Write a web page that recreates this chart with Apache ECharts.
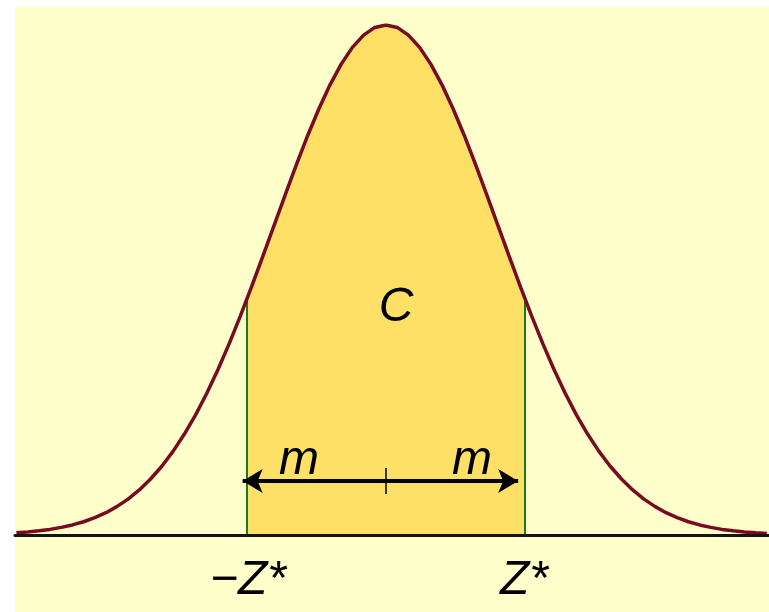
<!DOCTYPE html>
<html>
<head>
<meta charset="utf-8">
<script src="https://cdn.jsdelivr.net/npm/echarts@6/dist/echarts.min.js"></script>
<style>
    html, body { margin: 0; padding: 0; background: #fff; }
    #chart { width: 769px; height: 612px; }
</style>
</head>
<body>
<div id="chart"></div>
<script>
    // z values and the density
    var zValues = [-3.3, -3.2, -3.1, -3.0, -2.9, -2.8, -2.7, -2.6, -2.5, -2.4, -2.3, -2.2, -2.1, -2.0,
        -1.9, -1.8, -1.7, -1.6, -1.5, -1.4, -1.3, -1.2, -1.1, -1.0, -0.9, -0.8, -0.7, -0.6, -0.5,
        -0.4, -0.3, -0.2, -0.1, 0.0, 0.1, 0.2, 0.3, 0.4, 0.5, 0.6, 0.7, 0.8, 0.9, 1.0, 1.1, 1.2,
        1.3, 1.4, 1.5, 1.6, 1.7, 1.8, 1.9, 2.0, 2.1, 2.2, 2.3, 2.4, 2.5, 2.6, 2.7, 2.8, 2.9, 3.0,
        3.1, 3.2, 3.3, 3.4];
    var density = [0.0017, 0.0024, 0.0033, 0.0044, 0.0060, 0.0079, 0.0104, 0.0136, 0.0175, 0.0224,
        0.0283, 0.0355, 0.0440, 0.0540, 0.0656, 0.0790, 0.0940, 0.1109, 0.1295, 0.1497, 0.1714,
        0.1942, 0.2179, 0.2420, 0.2661, 0.2897, 0.3123, 0.3332, 0.3521, 0.3683, 0.3814, 0.3910,
        0.3970, 0.3989, 0.3970, 0.3910, 0.3814, 0.3683, 0.3521, 0.3332, 0.3123, 0.2897, 0.2661,
        0.2420, 0.2179, 0.1942, 0.1714, 0.1497, 0.1295, 0.1109, 0.0940, 0.0790, 0.0656, 0.0540,
        0.0440, 0.0355, 0.0283, 0.0224, 0.0175, 0.0136, 0.0104, 0.0079, 0.0060, 0.0044, 0.0033,
        0.0024, 0.0017, 0.0012];
    var zStar = 1.24;
    var densityAtZStar = 0.185;

    // arrow for the margin m
    var arrowFrom = -1.28, arrowTo = 1.18, arrowY = 0.0422;
    var tickLow = 0.032, tickHigh = 0.0524;

    // text labels: [text, x, y]
    var labels = [
        ['m', -0.777, 0.0585],
        ['m', 0.768, 0.0585],
        ['C', 0.089, 0.178],
        ['\u2212Z*', -1.232, -0.0355],
        ['Z*', 1.232, -0.0355]
    ];

    var curve = zValues.map(function (z, i) { return [z, density[i]]; });
    var shade = [[-zStar, densityAtZStar]];
    zValues.forEach(function (z, i) {
        if (Math.abs(z) < zStar) shade.push([z, density[i]]);
    });
    shade.push([zStar, densityAtZStar]);

    var myChart = echarts.init(document.getElementById('chart'));
    var textFont = {
        fontFamily: 'Liberation Sans, Arial, sans-serif',
        fontSize: 48,
        fontStyle: 'italic',
        color: '#000'
    };

    var option = {
        backgroundColor: '#fff',
        animation: false,
        graphic: [{
            type: 'rect',
            z: -100,
            shape: { x: 15, y: 7, width: 754, height: 605 },
            style: { fill: '#FFFFCC' }
        }],
        grid: { left: 15, right: 0, top: 25, bottom: 0 },
        xAxis: {
            type: 'value',
            min: -3.3125,
            max: 3.4196,
            z: 10,
            axisLine: { show: true, onZero: true, lineStyle: { color: '#141414', width: 3 } },
            axisTick: { show: false },
            axisLabel: { show: false },
            splitLine: { show: false }
        },
        yAxis: {
            type: 'value',
            min: -0.0602,
            max: 0.3989,
            show: false,
            splitLine: { show: false }
        },
        series: [
            {
                // shaded area between -Z* and Z*
                type: 'line',
                data: shade,
                showSymbol: false,
                z: 3,
                lineStyle: { width: 0 },
                areaStyle: { color: '#FFE066', opacity: 1, origin: 'auto' },
                markLine: {
                    silent: true,
                    symbol: 'none',
                    label: { show: false },
                    lineStyle: { color: '#1F7A1F', width: 2, type: 'solid' },
                    data: [
                        [{ coord: [-zStar, 0] }, { coord: [-zStar, densityAtZStar] }],
                        [{ coord: [zStar, 0] }, { coord: [zStar, densityAtZStar] }]
                    ]
                }
            },
            {
                // the normal curve
                type: 'line',
                data: curve,
                showSymbol: false,
                z: 5,
                lineStyle: { color: '#7A0A20', width: 3.5 },
                markLine: {
                    silent: true,
                    label: { show: false },
                    data: [
                        [{
                            coord: [arrowFrom, arrowY],
                            symbol: 'arrow',
                            symbolSize: [18, 20],
                            lineStyle: { color: '#000', width: 4, type: 'solid' }
                        }, {
                            coord: [arrowTo, arrowY],
                            symbol: 'arrow',
                            symbolSize: [18, 20]
                        }],
                        [{
                            coord: [0, tickLow],
                            symbol: 'none',
                            lineStyle: { color: '#000', width: 1.5, type: 'solid' }
                        }, {
                            coord: [0, tickHigh],
                            symbol: 'none'
                        }]
                    ]
                },
                markPoint: {
                    silent: true,
                    symbol: 'rect',
                    symbolSize: 1,
                    itemStyle: { color: 'rgba(0,0,0,0)' },
                    data: labels.map(function (l) {
                        return {
                            coord: [l[1], l[2]],
                            label: Object.assign({
                                show: true,
                                position: 'inside',
                                formatter: l[0]
                            }, textFont)
                        };
                    })
                }
            }
        ]
    };
    option && myChart.setOption(option);
</script>
</body>
</html>
